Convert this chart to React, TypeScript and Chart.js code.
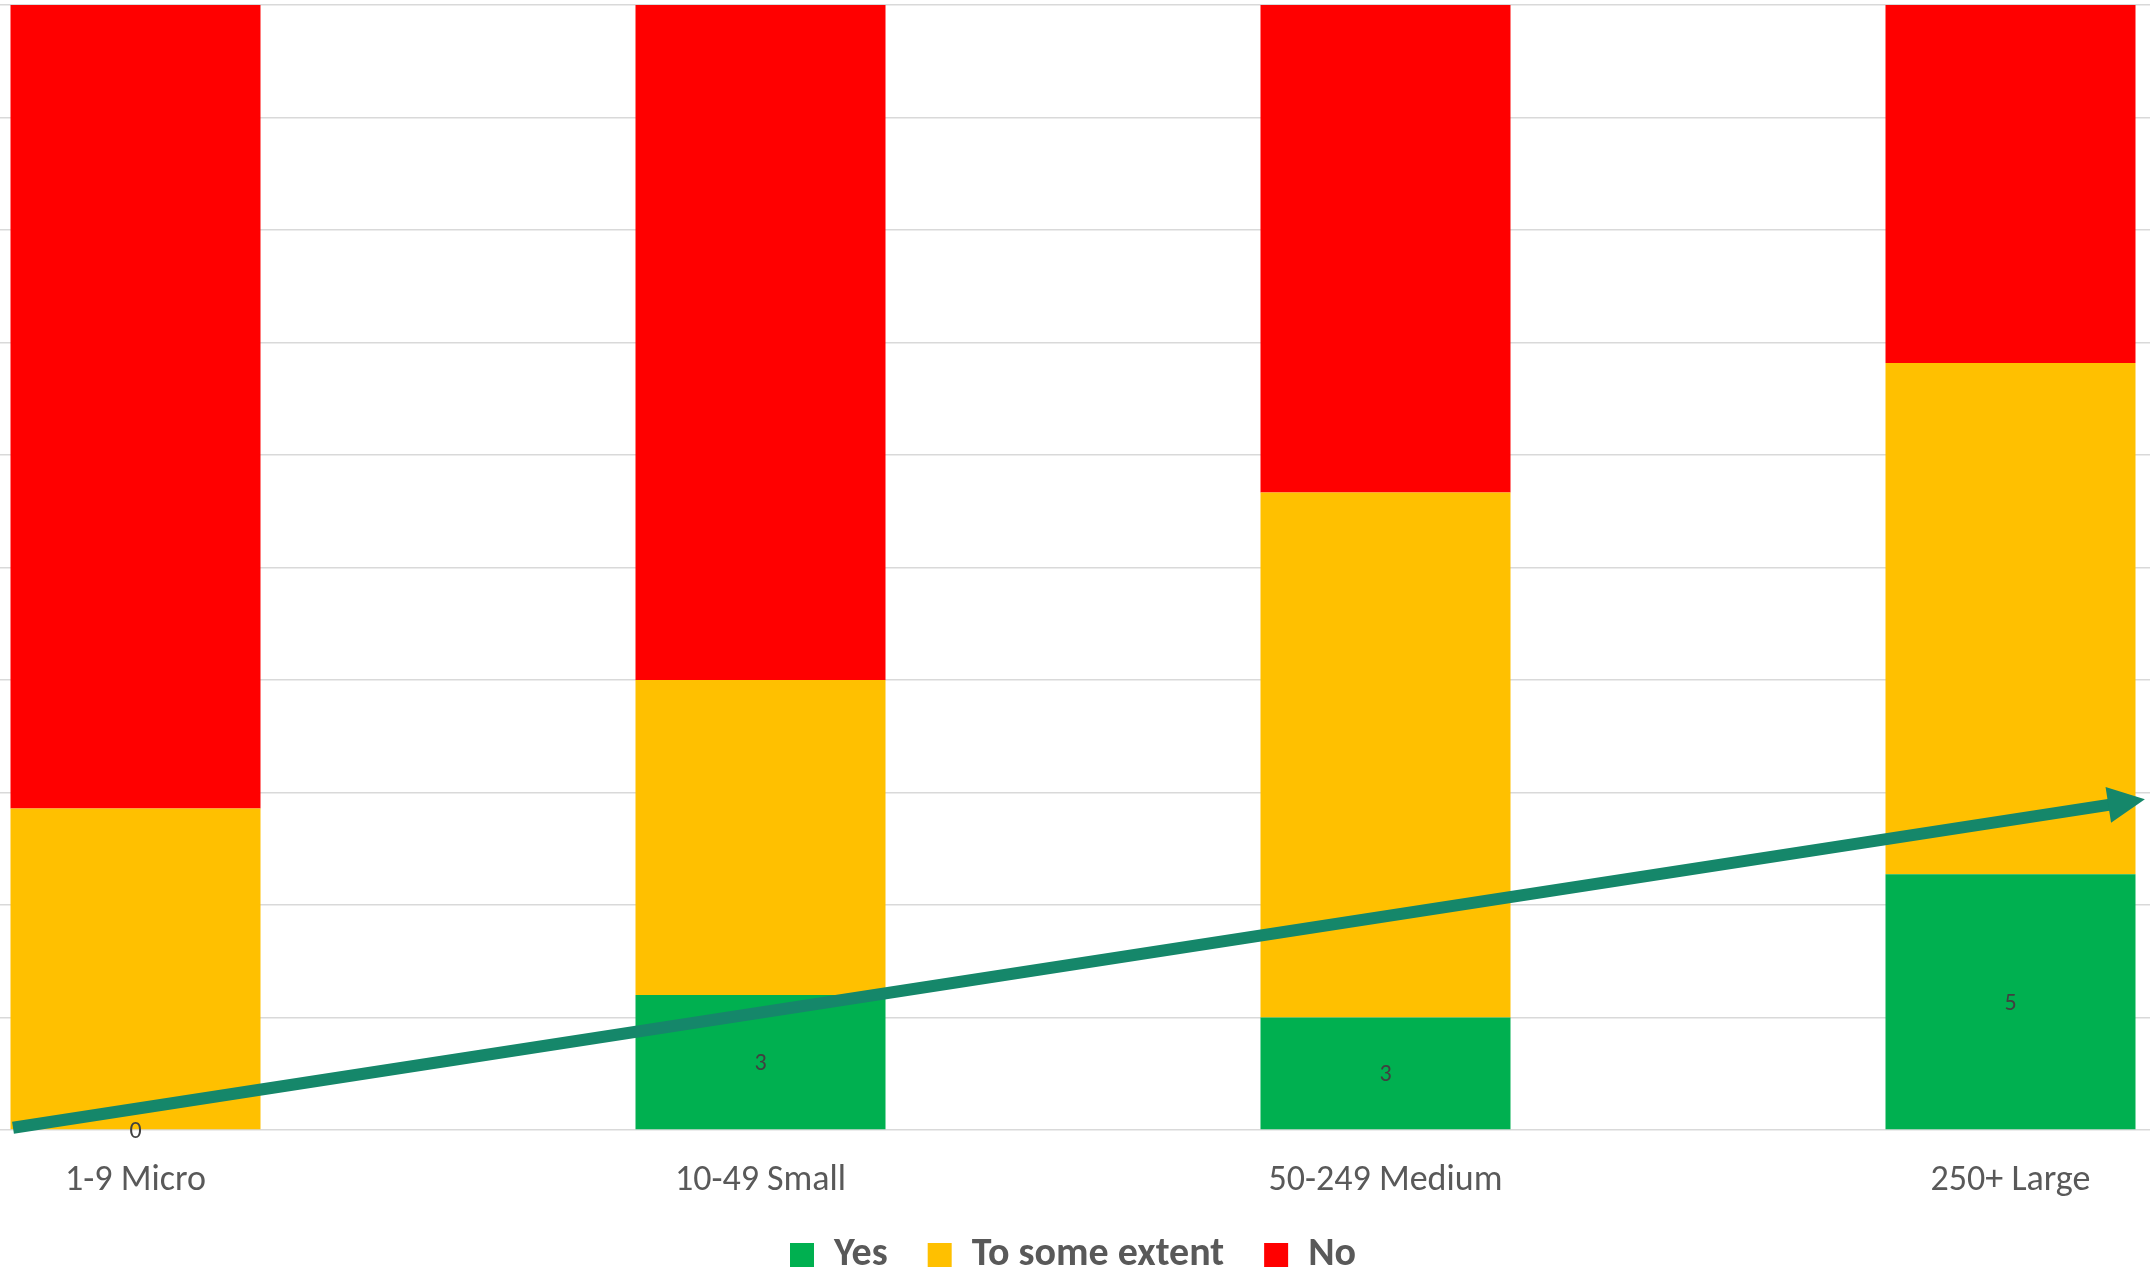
import React, { useEffect, useRef } from "react";
import { Chart, registerables } from "chart.js";

Chart.register(...registerables);

// ---- data ----
const categories = ["1-9 Micro", "10-49 Small", "50-249 Medium", "250+ Large"];
const seriesNames = ["Yes", "To some extent", "No"];
const yesCounts = [0, 3, 3, 5];
const someExtentCounts = [6, 7, 14, 10];
const noCounts = [15, 15, 13, 7];
const seriesColors = ["#00B050", "#FFC000", "#FF0000"];
const yGridValues = [0, 10, 20, 30, 40, 50, 60, 70, 80, 90, 100];
// trend arrow annotation, in data units (category index, percent)
const trendArrowStart = { x: -0.196, y: 0.2 };
const trendArrowEnd = { x: 3.215, y: 29.4 };

const FONT = "Carlito, 'Liberation Sans Narrow', 'Liberation Sans', sans-serif";

export default function App() {
  const ref = useRef<HTMLCanvasElement | null>(null);

  useEffect(() => {
    if (!ref.current) return;
    const totals = categories.map(
      (_, i) => yesCounts[i] + someExtentCounts[i] + noCounts[i]
    );
    const counts = [yesCounts, someExtentCounts, noCounts];
    const toPct = (arr: number[]) => arr.map((v, i) => (v / totals[i]) * 100);

    const overlay = {
      id: "overlay",
      afterDatasetsDraw(chart: any) {
        const ctx = chart.ctx;
        // data labels for "Yes"
        const meta = chart.getDatasetMeta(0);
        ctx.save();
        ctx.fillStyle = "#404040";
        ctx.font = `24px ${FONT}`;
        ctx.textAlign = "center";
        ctx.textBaseline = "middle";
        meta.data.forEach((el: any, i: number) => {
          const cy = (el.y + el.base) / 2;
          ctx.fillText(String(yesCounts[i]), el.x, cy + 2);
        });
        ctx.restore();

        // trend arrow
        const xs = chart.scales.x;
        const ys = chart.scales.y;
        const x1 = xs.getPixelForValue(trendArrowStart.x);
        const y1 = ys.getPixelForValue(trendArrowStart.y);
        const x2 = xs.getPixelForValue(trendArrowEnd.x);
        const y2 = ys.getPixelForValue(trendArrowEnd.y);
        const dx = x2 - x1;
        const dy = y2 - y1;
        const len = Math.hypot(dx, dy);
        const ux = dx / len;
        const uy = dy / len;
        const headLen = 37;
        const headHalf = 18;
        const bx = x2 - ux * headLen;
        const by = y2 - uy * headLen;
        ctx.save();
        ctx.strokeStyle = "#15876A";
        ctx.fillStyle = "#15876A";
        ctx.lineWidth = 12;
        ctx.lineCap = "butt";
        ctx.beginPath();
        ctx.moveTo(x1, y1);
        ctx.lineTo(bx + ux * 2, by + uy * 2);
        ctx.stroke();
        ctx.beginPath();
        ctx.moveTo(x2, y2);
        ctx.lineTo(bx - uy * headHalf, by + ux * headHalf);
        ctx.lineTo(bx + uy * headHalf, by - ux * headHalf);
        ctx.closePath();
        ctx.fill();
        ctx.restore();
      },
    };

    const chart = new Chart(ref.current, {
      type: "bar",
      data: {
        labels: categories,
        datasets: counts.map((c, k) => ({
          label: seriesNames[k],
          data: toPct(c),
          backgroundColor: seriesColors[k],
          borderWidth: 0,
          barPercentage: 0.4,
          categoryPercentage: 1,
        })),
      },
      options: {
        responsive: false,
        animation: false,
        layout: { padding: { top: 5, left: 0, right: 0, bottom: 0 } },
        scales: {
          x: {
            stacked: true,
            grid: { display: false, drawTicks: false },
            border: { display: false },
            ticks: {
              color: "#595959",
              font: { family: FONT, size: 36 },
              padding: 29,
            },
            afterFit: (scale: any) => {
              scale.height = 65;
              // let tick labels draw outside the reduced axis box
              scale._computeLabelArea = () => undefined;
            },
          },
          y: {
            stacked: true,
            min: 0,
            max: 100,
            afterBuildTicks: (scale: any) => {
              scale.ticks = yGridValues.map((v) => ({ value: v }));
            },
            ticks: { display: false },
            grid: { color: "#D9D9D9", lineWidth: 1.5, drawTicks: false },
            border: { display: false },
          },
        },
        plugins: {
          legend: {
            position: "bottom",
            labels: {
              boxWidth: 24,
              boxHeight: 24,
              padding: 40,
              color: "#595959",
              font: { family: FONT, size: 40, weight: "bold" },
            },
          },
          tooltip: { enabled: false },
        },
      },
      plugins: [overlay],
    } as any);

    return () => chart.destroy();
  }, []);

  return (
    <div
      style={{
        position: "absolute",
        left: 0,
        top: 0,
        width: 2150,
        height: 1269,
        overflow: "hidden",
        background: "#fff",
      }}
    >
      <div style={{ position: "absolute", left: -177, top: 0 }}>
        <canvas ref={ref} width={2500} height={1285} style={{ display: "block" }} />
      </div>
    </div>
  );
}
